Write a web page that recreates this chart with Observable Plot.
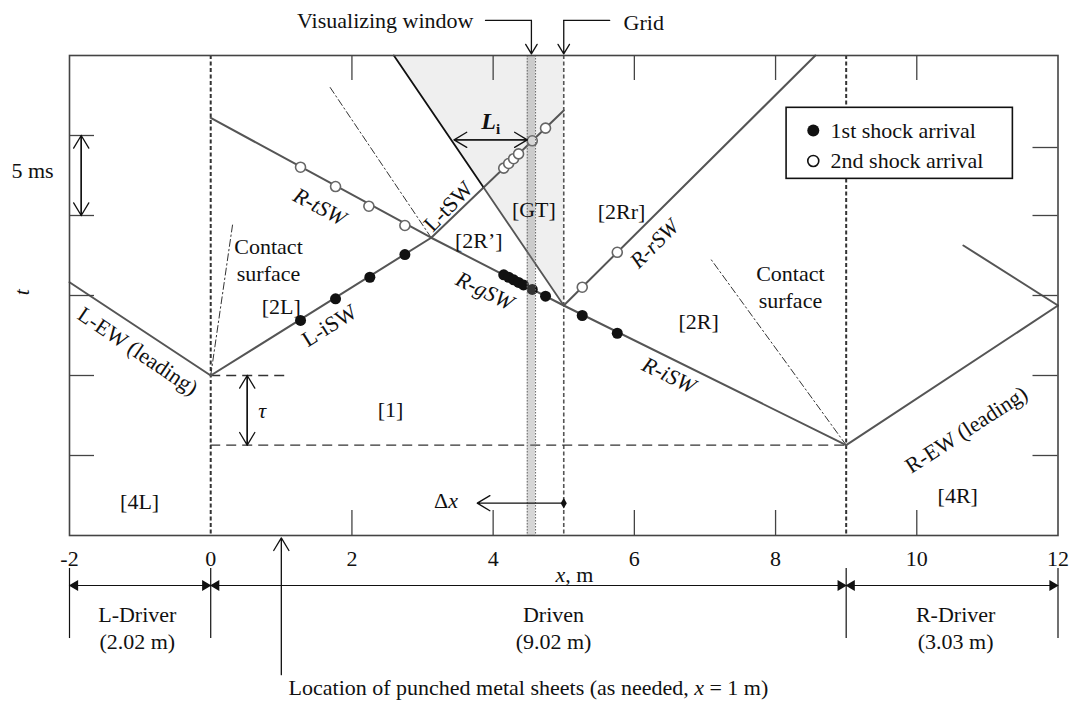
<!DOCTYPE html>
<html><head><meta charset="utf-8">
<script src="https://cdn.jsdelivr.net/npm/d3@7"></script>
<script src="https://cdn.jsdelivr.net/npm/@observablehq/plot@0.6"></script>
<style>body{margin:0;background:#fff}</style>
</head><body><div id="chart"></div>
<script>
// ---------------- data (x in m, t in ms) ----------------
const xTicks = [-2, 0, 2, 4, 6, 8, 10, 12];
const xTickLabels = ["-2", "0", "2", "4", "6", "8", "10", "12"];
const frameTicksX = [2, 4, 6, 8, 10];
const frameTicksT = [5, 10, 15, 20, 25];
const frameTicksTRight = [5, 10, 15, 20, 24.25];

// wave trajectories
const lEW      = [[-2, 15.83], [0, 10]];
const lISW     = [[0, 10], [3.123, 18.61]];
const lTSW     = [[3.123, 18.61], [5, 26.56]];
const rTSW     = [[0, 26.1], [3.123, 18.61]];
const rGSW     = [[3.123, 18.61], [5, 14.375]];
const rISW     = [[5, 14.375], [9, 5.65]];
const rRSW     = [[5, 14.375], [8.563, 30]];
const rEW      = [[9, 5.65], [12, 14.375]];
const rEWrefl  = [[12, 14.375], [10.66, 18.125]];
const gtEdgeUpper = [[2.594, 30], [3.865, 21.75]];
const gtEdgeLower = [[3.865, 21.75], [5, 14.375]];
const gtRegion = [[2.594, 30, 30], [5, 14.375, 30]];
const contactL   = [[0, 10], [0.31, 19.44]];
const contactMid = [[3.123, 18.61], [1.673, 28.125]];
const contactR   = [[9, 5.65], [7.08, 17.29]];

// shock arrivals
const firstArrival = [
  [1.272, 13.44], [1.768, 14.79], [2.254, 16.14], [2.75, 17.56],
  [4.15, 16.29], [4.22, 16.14], [4.29, 15.98], [4.36, 15.82], [4.43, 15.66],
  [4.554, 15.38], [4.742, 14.96],
  [5.262, 13.75], [5.758, 12.64]
];
const secondArrival = [
  [1.272, 23.02], [1.768, 21.81], [2.24, 20.58], [2.75, 19.375],
  [4.15, 22.96], [4.22, 23.25], [4.29, 23.55], [4.36, 23.85],
  [4.554, 24.67], [4.742, 25.46],
  [5.262, 15.52], [5.758, 17.7]
];

const diaphragmX = [0, 9];
const gridX = [5];
const windowX = [4.483, 4.601];
const tauLevels = [10, 5.65];
const sectionStops = [-2, 0, 9, 12];
const punchedX = 1;

// ---------------- layout / style ----------------
const W = 1071, H = 703;
const FONT = "Liberation Serif, Times New Roman, serif";
const FS = 22;
const INK = "#111";
const WAVE = "#555";
const tickT = 25 / 16;   // 25px in ms
const tickX = 25 / 70.6; // 25px in m

const labels = [
  {s: "R-tSW", x: 1.555, t: 20.63, r: 28, it: true},
  {s: "L-tSW", x: 3.35, t: 20.63, r: -46},
  {s: "[2R’]", x: 3.797, t: 18.54, r: 0},
  {s: "[GT]", x: 4.577, t: 20.42, r: 0},
  {s: "[2Rr]", x: 5.819, t: 20.31, r: 0},
  {s: "R-rSW", x: 6.27, t: 18.3, r: -45, it: true},
  {s: "Contact\nsurface", x: 0.819, t: 17.28, r: 0},
  {s: "[2L]", x: 1.0, t: 14.375, r: 0},
  {s: "L-iSW", x: 1.669, t: 13.2, r: -32},
  {s: "L-EW (leading)", x: -1.02, t: 11.6, r: 34},
  {s: "[4L]", x: -1.007, t: 2.19, r: 0},
  {s: "[1]", x: 2.546, t: 7.94, r: 0},
  {s: "R-gSW", x: 3.892, t: 15.375, r: 26, it: true},
  {s: "R-iSW", x: 6.5, t: 10.1, r: 26, it: true},
  {s: "[2R]", x: 6.91, t: 13.44, r: 0},
  {s: "Contact\nsurface", x: 8.21, t: 15.625, r: 0},
  {s: "R-EW (leading)", x: 10.69, t: 6.69, r: -33},
  {s: "[4R]", x: 10.58, t: 2.6, r: 0}
];

const X = d => d[0], T = d => d[1];
const waveLine = (pts, o = {}) => Plot.line(pts, {x: X, y: T, stroke: WAVE, strokeWidth: 2, ...o});
const txt = (data, o) => Plot.text(data, {fontFamily: FONT, fontSize: FS, fill: INK, ...o});
const arrowOpts = {stroke: INK, strokeWidth: 1.3, headLength: 17, headAngle: 62};

const marks = [
  // GT shaded region
  Plot.areaY(gtRegion, {x: d => d[0], y1: d => d[1], y2: d => d[2], fill: "#efefef"}),
  // diaphragms, grid
  Plot.ruleX(diaphragmX, {stroke: "#333", strokeWidth: 2, strokeDasharray: "4,2.5"}),
  Plot.ruleX(gridX, {stroke: "#555", strokeWidth: 1.6, strokeDasharray: "4,2.5"}),
  // tau dashed levels
  Plot.ruleY([tauLevels[0]], {x1: 0, x2: punchedX + 0.06, stroke: "#333", strokeWidth: 1.3, strokeDasharray: "10,6"}),
  Plot.ruleY([tauLevels[1]], {x1: 0, x2: diaphragmX[1], stroke: "#333", strokeWidth: 1.3, strokeDasharray: "10,6"}),
  // contact surfaces
  ...[contactL, contactMid, contactR].map(p => Plot.line(p, {x: X, y: T, stroke: "#333", strokeWidth: 1, strokeDasharray: "7,3,1.5,3"})),
  // waves
  waveLine(lEW), waveLine(lISW), waveLine(lTSW), waveLine(rTSW), waveLine(rGSW),
  waveLine(rISW), waveLine(rRSW), waveLine(rEW), waveLine(rEWrefl),
  waveLine(gtEdgeUpper, {stroke: "#111", strokeWidth: 1.8}),
  waveLine(gtEdgeLower, {strokeWidth: 1.8}),
  // arrivals
  Plot.dot(secondArrival, {x: X, y: T, r: 5, fill: "white", stroke: "#666", strokeWidth: 1.6}),
  Plot.dot(firstArrival, {x: X, y: T, r: 5.5, fill: INK, stroke: "none"}),
  // visualizing window
  Plot.rect([windowX], {x1: d => d[0], x2: d => d[1], y1: 0, y2: 30, fill: "#808080", fillOpacity: 0.32}),
  Plot.ruleX(windowX, {stroke: "#666", strokeWidth: 1, strokeDasharray: "1.5,1.5"}),
  // frame & ticks
  Plot.frame({stroke: "#444", strokeWidth: 1.6}),
  Plot.ruleX(frameTicksX, {x: d => d, y1: 0, y2: tickT, stroke: "#444", strokeWidth: 1.3}),
  Plot.ruleX(frameTicksX, {x: d => d, y1: 30, y2: 30 - tickT, stroke: "#444", strokeWidth: 1.3}),
  Plot.ruleY(frameTicksT, {y: d => d, x1: -2, x2: -2 + tickX, stroke: "#444", strokeWidth: 1.3}),
  Plot.ruleY(frameTicksTRight, {y: d => d, x1: 12, x2: 12 - tickX, stroke: "#444", strokeWidth: 1.3}),
  // x tick labels
  txt(xTicks, {x: d => d, y: -1.44, text: (d, i) => xTickLabels[i]}),
  txt(["x, m"], {x: 5.15, y: -2.44}),
  // region labels
  ...labels.map(l => txt([l], {x: "x", y: "t", text: "s", rotate: l.r, fontStyle: l.it ? "italic" : "normal", lineHeight: 1.23})),
  txt(["τ"], {x: 0.728, y: 7.81, fontStyle: "italic"}),
  txt(["Δx"], {x: 3.333, y: 2.19}),
  txt(["Li"], {x: 3.965, y: 25.83}),
  txt(["5 ms"], {x: -2.524, y: 22.8}),
  txt(["t"], {x: -2.67, y: 15.2, rotate: -90, fontStyle: "italic"}),
  // arrows
  Plot.arrow([[-1.834, 20, 25], [-1.834, 25, 20]], {x1: d => d[0], y1: d => d[1], x2: d => d[0], y2: d => d[2], ...arrowOpts}),
  Plot.arrow([[0.517, 5.65, 10], [0.517, 10, 5.65]], {x1: d => d[0], y1: d => d[1], x2: d => d[0], y2: d => d[2], ...arrowOpts}),
  Plot.arrow([[3.447, 4.483], [4.483, 3.447]], {x1: d => d[0], x2: d => d[1], y1: 24.73, y2: 24.73, ...arrowOpts}),
  Plot.arrow([[gridX[0], 3.775]], {x1: d => d[0], x2: d => d[1], y1: 2.02, y2: 2.02, ...arrowOpts}),
  Plot.dot([[gridX[0], 2.02]], {x: X, y: T, symbol: "diamond", r: 3.2, fill: INK}),
  Plot.arrow([[punchedX, -8.7, -0.15]], {x1: d => d[0], x2: d => d[0], y1: d => d[1], y2: d => d[2], ...arrowOpts}),
  // top annotation arrows
  Plot.line([[3.892, 32.19], [(windowX[0] + windowX[1]) / 2, 32.19]], {x: X, y: T, stroke: INK, strokeWidth: 1.3}),
  Plot.arrow([(windowX[0] + windowX[1]) / 2], {x1: d => d, x2: d => d, y1: 32.19, y2: 30.1, ...arrowOpts}),
  Plot.line([[5.65, 32.19], [gridX[0], 32.19]], {x: X, y: T, stroke: INK, strokeWidth: 1.3}),
  Plot.arrow(gridX, {x1: d => d, x2: d => d, y1: 32.19, y2: 30.1, ...arrowOpts}),
  txt(["Visualizing window"], {x: 3.722, y: 32.19, textAnchor: "end"}),
  txt(["Grid"], {x: 5.847, y: 32.06, textAnchor: "start"}),
  // section dimension line
  Plot.ruleY([-3.125], {x1: -2, x2: 12, stroke: INK, strokeWidth: 1.2}),
  Plot.ruleX(sectionStops, {x: d => d, y1: -2.06, y2: -6.44, stroke: INK, strokeWidth: 1.2}),
  Plot.dot([0, 9, 12], {x: d => d, y: -3.125, symbol: "triangle", rotate: 90, r: 4, fill: INK, dx: -5.5}),
  Plot.dot([-2, 0, 9], {x: d => d, y: -3.125, symbol: "triangle", rotate: -90, r: 4, fill: INK, dx: 5.5}),
  txt(["L-Driver\n(2.02 m)"], {x: -1.04, y: -5.69, lineHeight: 1.27}),
  txt(["Driven\n(9.02 m)"], {x: 4.855, y: -5.69, lineHeight: 1.27}),
  txt(["R-Driver\n(3.03 m)"], {x: 10.55, y: -5.69, lineHeight: 1.27}),
  txt(["Location of punched metal sheets (as needed, x = 1 m)"], {x: 4.5, y: -9.5}),
  // legend
  Plot.rect([[8.156, 11.361, 22.29, 26.73]], {x1: d => d[0], x2: d => d[1], y1: d => d[2], y2: d => d[3], fill: "white", stroke: INK, strokeWidth: 1.6}),
  Plot.dot([[8.534, 25.31]], {x: X, y: T, r: 6, fill: INK}),
  Plot.dot([[8.534, 23.41]], {x: X, y: T, r: 5.5, fill: "white", stroke: INK, strokeWidth: 1.6}),
  txt(["1st shock arrival"], {x: 8.779, y: 25.31, textAnchor: "start"}),
  txt(["2nd shock arrival"], {x: 8.779, y: 23.41, textAnchor: "start"})
];

const chart = Plot.plot({
  width: W, height: H,
  marginTop: 55, marginRight: 13.5, marginBottom: 168, marginLeft: 69,
  x: {domain: [-2, 12], axis: null},
  y: {domain: [0, 30], axis: null},
  style: {background: "white", overflow: "visible"},
  marks
});

// rich text (italic / bold / subscript parts)
const rich = {
  "x, m": [["x", "i"], [", m", ""]],
  "Δx": [["Δ", ""], ["x", "i"]],
  "Li": [["L", "bi"], ["i", "bs"]],
  "Location of punched metal sheets (as needed, x = 1 m)": [["Location of punched metal sheets (as needed, ", ""], ["x", "i"], [" = 1 m)", ""]]
};
d3.select(chart).selectAll("text").each(function () {
  const segs = rich[this.textContent];
  if (!segs || this.querySelector("tspan")) return;
  this.textContent = "";
  for (const [s, f] of segs) {
    const ts = d3.select(this).append("tspan").text(s);
    if (f.includes("i")) ts.attr("font-style", "italic");
    if (f.includes("b")) ts.attr("font-weight", "bold");
    if (f.includes("s")) ts.attr("font-size", 15).attr("dy", 5).attr("font-style", "normal");
    if (f === "bi") ts.attr("font-size", 24);
  }
});
document.getElementById("chart").appendChild(chart);
</script>
</body></html>
